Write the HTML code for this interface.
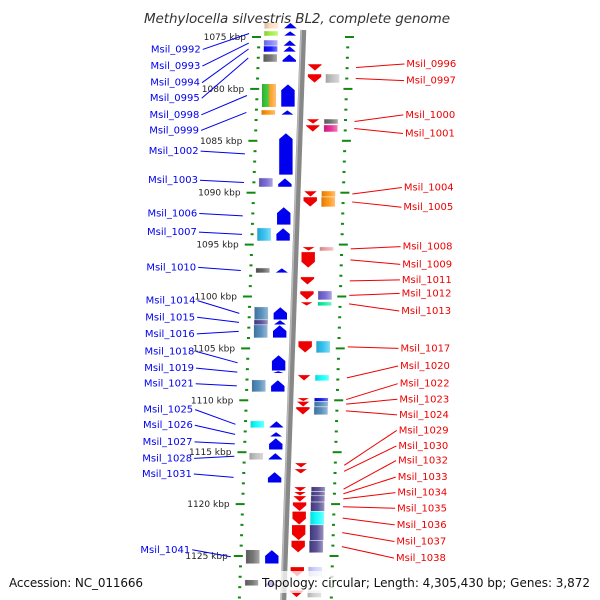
<!DOCTYPE html>
<html><head><meta charset="utf-8"><style>
html,body{margin:0;padding:0;background:#fff;}
svg{display:block;font-family:"DejaVu Sans","Liberation Sans",sans-serif;}
</style></head><body>
<svg id="chart" width="600" height="600" viewBox="0 0 600 600" xmlns="http://www.w3.org/2000/svg">
<defs>
<linearGradient id="shade" x1="0" x2="1" y1="0" y2="0"><stop offset="0" stop-color="#000" stop-opacity="0.15"/><stop offset="0.5" stop-color="#fff" stop-opacity="0.1"/><stop offset="1" stop-color="#fff" stop-opacity="0.45"/></linearGradient>
</defs>
<g id="ticks"></g>
<g id="backbone"></g>
<g id="genes"></g>
<g id="labels"></g>
<text x="297" y="23" text-anchor="middle" font-size="13.5" font-style="italic" fill="#333" textLength="306">Methylocella silvestris BL2, complete genome</text>
<rect x="258" y="571" width="338" height="22" fill="#fff" fill-opacity="0.75"/>
<text x="9" y="587" font-size="12" fill="#111" textLength="134">Accession: NC_011666</text>
<text x="262" y="587" font-size="12" fill="#111" textLength="328">Topology: circular; Length: 4,305,430 bp; Genes: 3,872</text>
</svg>
<script>
// ---- data (kbp) ----
const tickKbp = [1075,1080,1085,1090,1095,1100,1105,1110,1115,1120,1125];
const tickLabels = ["1075 kbp","1080 kbp","1085 kbp","1090 kbp","1095 kbp","1100 kbp","1105 kbp","1110 kbp","1115 kbp","1120 kbp","1125 kbp"];
const geneNames = ["top1","Msil_0992","Msil_0993","Msil_0994","Msil_0995","Msil_0998","Msil_0999","Msil_1002","Msil_1003","Msil_1006","Msil_1007","Msil_1010","Msil_1014","Msil_1015","Msil_1016","Msil_1018","Msil_1019","Msil_1021","Msil_1025","Msil_1026","Msil_1027","Msil_1028","Msil_1031","Msil_1041","bot1",
"Msil_0996","Msil_0997","Msil_1000","Msil_1001","Msil_1004","Msil_1005","Msil_1008","Msil_1009","Msil_1011","Msil_1012","Msil_1013","Msil_1017","Msil_1020","Msil_1022","Msil_1023","Msil_1024","Msil_1029","Msil_1030","Msil_1032","Msil_1033","Msil_1034","Msil_1035","Msil_1036","Msil_1037","Msil_1038","bot2","bot3"];
const geneStart = [1073.6,1074.42,1075.29,1075.87,1076.64,1079.53,1082.03,1084.24,1088.58,1091.37,1093.39,1097.25,1101.0,1102.25,1102.73,1105.62,1107.16,1108.03,1111.98,1113.04,1113.62,1115.06,1116.89,1124.40,1127.29,
1077.60,1078.56,1082.90,1083.47,1089.83,1090.41,1095.22,1095.70,1098.11,1099.46,1100.52,1104.28,1107.55,1109.76,1110.10,1110.63,1116.02,1116.60,1118.33,1118.80,1119.20,1119.80,1120.70,1122.00,1123.50,1126.04,1128.3];
const geneEnd = [1074.2,1074.90,1075.87,1076.44,1077.41,1081.74,1082.51,1088.29,1089.45,1093.10,1094.65,1097.73,1102.25,1102.73,1103.99,1107.16,1107.40,1109.19,1112.65,1113.52,1114.77,1115.73,1117.95,1125.75,1127.87,
1078.27,1079.43,1083.38,1084.15,1090.41,1091.37,1095.61,1097.25,1098.88,1100.33,1100.90,1105.43,1108.13,1110.10,1110.63,1111.40,1116.50,1117.08,1118.80,1119.20,1119.80,1120.70,1122.00,1123.50,1124.69,1127.00,1129.0];
const geneStrand = [1,1,1,1,1,1,1,1,1,1,1,1,1,1,1,1,1,1,1,1,1,1,1,1,1,
-1,-1,-1,-1,-1,-1,-1,-1,-1,-1,-1,-1,-1,-1,-1,-1,-1,-1,-1,-1,-1,-1,-1,-1,-1,-1,-1];
const geneCog = ["#ffdab9","#99ee33","#7777ff","#0000ff","#666666","green-orange","#ff8c00","","#6a5acd","","#22bbee","#555555","#4682b4","#483d8b","#4682b4","","","#4682b4","#00ffff","","","#bbbbbb","","#666666","#666666",
"","#bbbbbb","#666666","#e6198c","#ff8c00","#ff8c00","#ee9999","","","#6a5acd","#00ee99","#22bbee","#00ffff","#0000ee","#4682b4","#4682b4","","","#483d8b","#483d8b","#483d8b","#483d8b","#00ffff","#483d8b","#483d8b","#ccccff","#cccccc"];
const leftLabels = ["Msil_0992","Msil_0993","Msil_0994","Msil_0995","Msil_0998","Msil_0999","Msil_1002","Msil_1003","Msil_1006","Msil_1007","Msil_1010","Msil_1014","Msil_1015","Msil_1016","Msil_1018","Msil_1019","Msil_1021","Msil_1025","Msil_1026","Msil_1027","Msil_1028","Msil_1031","Msil_1041"];
const leftLabelKbp = [1076.2,1077.8,1079.4,1080.9,1082.5,1084.0,1086.0,1088.8,1092.0,1093.8,1097.2,1100.4,1102.0,1103.6,1105.3,1106.9,1108.4,1110.9,1112.4,1114.0,1115.6,1117.1,1124.4];
const rightLabels = ["Msil_0996","Msil_0997","Msil_1000","Msil_1001","Msil_1004","Msil_1005","Msil_1008","Msil_1009","Msil_1011","Msil_1012","Msil_1013","Msil_1017","Msil_1020","Msil_1022","Msil_1023","Msil_1024","Msil_1029","Msil_1030","Msil_1032","Msil_1033","Msil_1034","Msil_1035","Msil_1036","Msil_1037","Msil_1038"];
const rightLabelKbp = [1077.6,1079.2,1082.5,1084.3,1089.5,1091.4,1095.2,1096.9,1098.4,1099.7,1101.4,1105.0,1106.7,1108.4,1109.9,1111.4,1112.9,1114.4,1115.8,1117.4,1118.9,1120.4,1122.0,1123.6,1125.2];

// ---- scales ----
const NS="http://www.w3.org/2000/svg";
function yS(k){return 37+(k-1075)*10.38;}
function sh(y){return -0.035*(y-37);}
function mk(tag,attrs,parent){const e=document.createElementNS(NS,tag);for(const a in attrs)e.setAttribute(a,attrs[a]);parent.appendChild(e);return e;}
const gT=document.getElementById('ticks'),gB=document.getElementById('backbone'),gG=document.getElementById('genes'),gL=document.getElementById('labels');

for(let k=1073;k<=1130;k++){
  const y=yS(k); if(y<28||y>600)continue;
  const major=(k%5===0);
  const xl=259+sh(y), xr=348+sh(y)*0.85;
  const d1=mk('rect',{x:major?xl-7:xl-1.5,y:y-1,width:major?9:3,height:2,fill:'#118811'},gT);
  
  
  const d2=mk('rect',{x:major?xr-3:xr-1.5,y:y-1,width:major?9:3,height:2,fill:'#118811'},gT);
  
  
}
tickKbp.forEach((k,i)=>{
  const y=yS(k);
  const t=mk('text',{x:246+sh(y),y:y+3,'font-size':9,'text-anchor':'end',fill:'#222'},gT);
  t.textContent=tickLabels[i];
  
  
});

const bb=mk('line',{x1:303+sh(30),y1:30,x2:303+sh(600),y2:600,stroke:'#888','stroke-width':6},gB);


mk('line',{x1:301+sh(30),y1:30,x2:301+sh(600),y2:600,stroke:'#bbb','stroke-width':1.5},gB);

geneNames.forEach((n,i)=>{
  const y1=yS(geneStart[i]),y2=yS(geneEnd[i]);
  const fwd=geneStrand[i]>0;
  const ym=(y1+y2)/2;
  const ax=(fwd?290:316)+sh(ym);
  const len=y2-y1, h=Math.min(6,len), w=7;
  let pts;
  if(fwd) pts=[[ax-w,y2],[ax-w,y1+h],[ax,y1],[ax+w,y1+h],[ax+w,y2]];
  else pts=[[ax-w,y1],[ax-w,y2-h],[ax,y2],[ax+w,y2-h],[ax+w,y1]];
  const p=mk('polygon',{points:pts.map(q=>q.join(',')).join(' '),fill:fwd?'#0000ee':'#ee0000',stroke:'#fff','stroke-width':0.6},gG);
  
  
  const c=geneCog[i];
  if(c){
    const bx=(fwd?271:334)+sh(ym)-7;
    if(c==='green-orange'){
      mk('rect',{x:bx,y:y1,width:7,height:len,fill:'#33cc33'},gG);
      mk('rect',{x:bx+7,y:y1,width:7,height:len,fill:'#ff8c00'},gG);
    } else {
      const r=mk('rect',{x:bx,y:y1,width:14,height:len,fill:c,stroke:'#fff','stroke-width':0.5},gG);
      
      
    }
    mk('rect',{x:bx,y:y1,width:14,height:len,fill:'url(#shade)'},gG);
  }
});

leftLabels.forEach((n,i)=>{
  const idx=geneNames.indexOf(n);
  const gy=(yS(geneStart[idx])+yS(geneEnd[idx]))/2;
  const ly=yS(leftLabelKbp[i]);
  const tx=201+sh(ly)*0.6;
  const l=mk('line',{x1:tx+2,y1:ly,x2:249+sh(gy),y2:gy,stroke:'#0000ee','stroke-width':1},gL);
  
  
  const t=mk('text',{x:tx,y:ly+3,'font-size':10,'text-anchor':'end',fill:'#0000ee'},gL);
  t.textContent=n;
  
  
});
rightLabels.forEach((n,i)=>{
  const idx=geneNames.indexOf(n);
  const gy=(yS(geneStart[idx])+yS(geneEnd[idx]))/2;
  const ly=yS(rightLabelKbp[i]);
  const tx=407+sh(ly)*0.6;
  const l=mk('line',{x1:357+sh(gy)*0.85,y1:gy,x2:tx-2,y2:ly,stroke:'#ee0000','stroke-width':1},gL);
  
  
  const t=mk('text',{x:tx,y:ly+3,'font-size':10,fill:'#ee0000'},gL);
  t.textContent=n;
  
  
});
</script>
</body></html>
